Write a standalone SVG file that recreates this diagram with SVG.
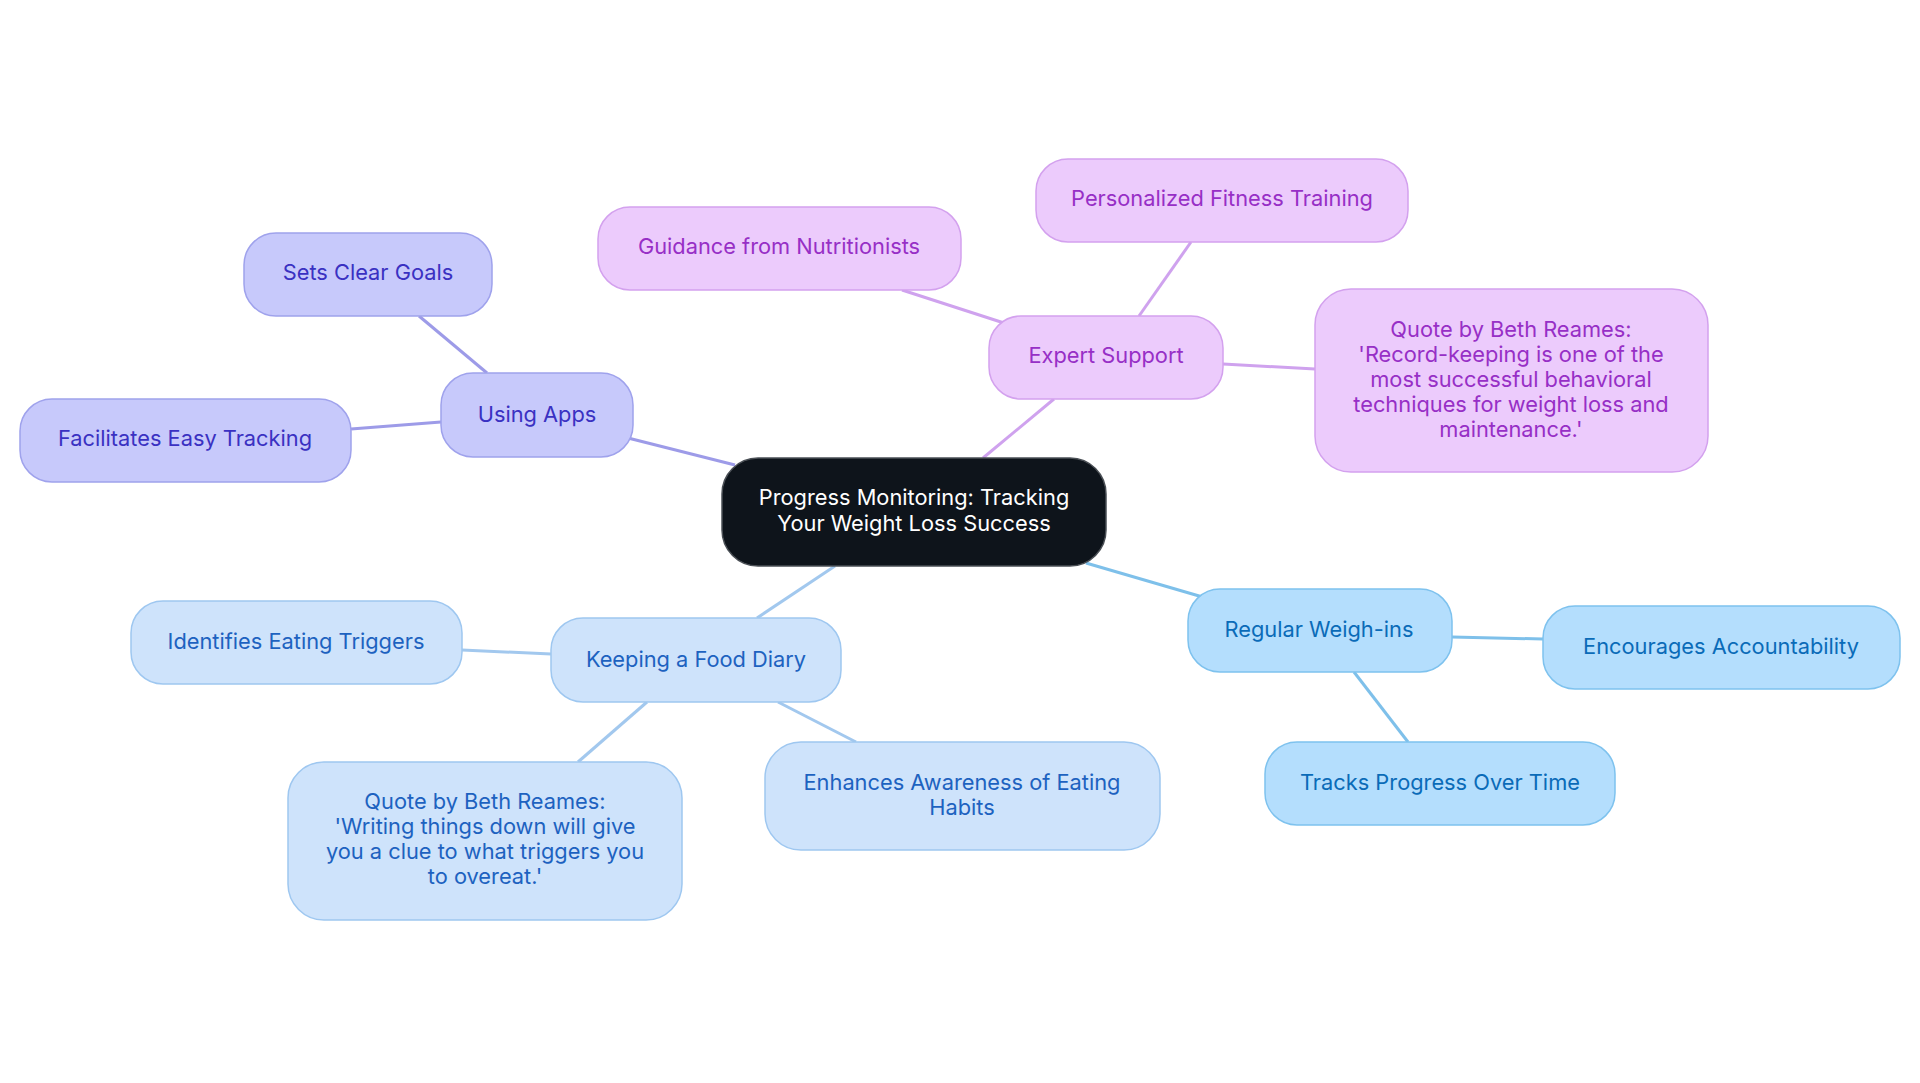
<svg xmlns="http://www.w3.org/2000/svg" width="1920" height="1083" viewBox="0 0 1920 1083">
<style>
text{font-family:Inter,"Noto Sans",sans-serif;font-size:21.8px;text-anchor:middle}
.e{stroke-width:3;fill:none}
.ind rect{fill:#c7c9fb;stroke:#9fa2ec;stroke-width:1.5}
.ind text{fill:#3a31c2}
.pur rect{fill:#eccbfc;stroke:#d3a1ee;stroke-width:1.5}
.pur text{fill:#972fc6}
.lb rect{fill:#cee3fb;stroke:#9ec7f0;stroke-width:1.5}
.lb text{fill:#1d62c0}
.sky rect{fill:#b4defd;stroke:#7ec2ee;stroke-width:1.5}
.sky text{fill:#0a6bb8}
</style>
<rect width="1920" height="1083" fill="#fff"/>
<g id="connectors">
<line class="e" stroke="#9d9be8" x1="735" y1="465" x2="628" y2="438"/>
<line class="e" stroke="#9d9be8" x1="487" y1="373" x2="419" y2="316"/>
<line class="e" stroke="#9d9be8" x1="441" y1="422" x2="351" y2="429"/>
<line class="e" stroke="#cfa2ee" x1="983" y1="458" x2="1054" y2="399"/>
<line class="e" stroke="#cfa2ee" x1="1004" y1="323" x2="902" y2="290"/>
<line class="e" stroke="#cfa2ee" x1="1139" y1="316" x2="1191" y2="242"/>
<line class="e" stroke="#cfa2ee" x1="1223" y1="364" x2="1315" y2="369"/>
<line class="e" stroke="#7ec0ea" x1="1086" y1="563" x2="1206" y2="598"/>
<line class="e" stroke="#7ec0ea" x1="1452" y1="637" x2="1543" y2="639"/>
<line class="e" stroke="#7ec0ea" x1="1354" y1="672" x2="1408" y2="742"/>
<line class="e" stroke="#a2c8ee" x1="835" y1="566" x2="757" y2="618"/>
<line class="e" stroke="#a2c8ee" x1="551" y1="654" x2="462" y2="650"/>
<line class="e" stroke="#a2c8ee" x1="647" y1="702" x2="578" y2="762"/>
<line class="e" stroke="#a2c8ee" x1="778" y1="702" x2="856" y2="742"/>
</g>
<g id="center">
<rect x="722" y="458" width="384" height="108" rx="36" fill="#0e141b" stroke="#4a4f55" stroke-width="1.5"/>
<text x="914" y="505" fill="#fff">Progress Monitoring: Tracking</text>
<text x="914" y="531" fill="#fff">Your Weight Loss Success</text>
</g>
<g id="using-apps" class="ind">
<rect x="441" y="373" width="192" height="84" rx="32"/>
<text x="537" y="422">Using Apps</text>
</g>
<g id="sets-clear-goals" class="ind">
<rect x="244" y="233" width="248" height="83" rx="32"/>
<text x="368" y="280">Sets Clear Goals</text>
</g>
<g id="facilitates" class="ind">
<rect x="20" y="399" width="331" height="83" rx="32"/>
<text x="185" y="446">Facilitates Easy Tracking</text>
</g>
<g id="expert-support" class="pur">
<rect x="989" y="316" width="234" height="83" rx="32"/>
<text x="1106" y="363">Expert Support</text>
</g>
<g id="guidance" class="pur">
<rect x="598" y="207" width="363" height="83" rx="32"/>
<text x="779" y="254">Guidance from Nutritionists</text>
</g>
<g id="personalized" class="pur">
<rect x="1036" y="159" width="372" height="83" rx="32"/>
<text x="1222" y="206">Personalized Fitness Training</text>
</g>
<g id="quote-record" class="pur">
<rect x="1315" y="289" width="393" height="183" rx="36"/>
<text x="1511" y="337">Quote by Beth Reames:</text>
<text x="1511" y="362">'Record-keeping is one of the</text>
<text x="1511" y="387">most successful behavioral</text>
<text x="1511" y="412">techniques for weight loss and</text>
<text x="1511" y="437">maintenance.'</text>
</g>
<g id="regular-weigh-ins" class="sky">
<rect x="1188" y="589" width="264" height="83" rx="32"/>
<text x="1319" y="637">Regular Weigh-ins</text>
</g>
<g id="encourages" class="sky">
<rect x="1543" y="606" width="357" height="83" rx="32"/>
<text x="1721" y="654">Encourages Accountability</text>
</g>
<g id="tracks-progress" class="sky">
<rect x="1265" y="742" width="350" height="83" rx="32"/>
<text x="1440" y="790">Tracks Progress Over Time</text>
</g>
<g id="food-diary" class="lb">
<rect x="551" y="618" width="290" height="84" rx="32"/>
<text x="696" y="667">Keeping a Food Diary</text>
</g>
<g id="identifies" class="lb">
<rect x="131" y="601" width="331" height="83" rx="32"/>
<text x="296" y="649">Identifies Eating Triggers</text>
</g>
<g id="quote-writing" class="lb">
<rect x="288" y="762" width="394" height="158" rx="36"/>
<text x="485" y="809">Quote by Beth Reames:</text>
<text x="485" y="834">'Writing things down will give</text>
<text x="485" y="859">you a clue to what triggers you</text>
<text x="485" y="884">to overeat.'</text>
</g>
<g id="enhances" class="lb">
<rect x="765" y="742" width="395" height="108" rx="36"/>
<text x="962" y="790">Enhances Awareness of Eating</text>
<text x="962" y="815">Habits</text>
</g>
</svg>
